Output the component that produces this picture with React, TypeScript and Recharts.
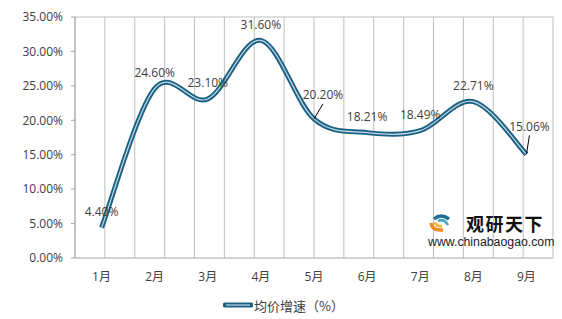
import React from "react";
import { LineChart, Line, XAxis, YAxis, CartesianGrid, ReferenceLine, Legend } from "recharts";

const months = ["1月", "2月", "3月", "4月", "5月", "6月", "7月", "8月", "9月"];
const growth = [4.4, 24.6, 23.1, 31.6, 20.2, 18.21, 18.49, 22.71, 15.06];
const yTicks = [0, 5, 10, 15, 20, 25, 30, 35];
const gridTicks = [0, 0.5, 1, 1.5, 2, 2.5, 3, 3.5, 4, 4.5, 5, 5.5, 6, 6.5, 7, 7.5, 8, 8.5, 9];
const seriesName = "均价增速（%）";

const data = months.map((m, i) => ({ month: m, value: growth[i] }));

const FONT = "'Open Sans', 'Noto Sans CJK SC', sans-serif";
const DARK = "#1c6184";
const LIGHT = "#c4dbe6";
const TEXT = "#404040";
const GRID = "#bfbfbf";

// Excel-like smoothing (Catmull-Rom through the points)
const excelSmooth = (context: any) => {
  let pts: number[][] = [];
  return {
    areaStart() {},
    areaEnd() {},
    lineStart() {
      pts = [];
    },
    point(x: number, y: number) {
      pts.push([x, y]);
    },
    lineEnd() {
      if (!pts.length) return;
      context.moveTo(pts[0][0], pts[0][1]);
      for (let i = 0; i < pts.length - 1; i++) {
        const p0 = pts[i - 1] || pts[i];
        const p1 = pts[i];
        const p2 = pts[i + 1];
        const p3 = pts[i + 2] || p2;
        context.bezierCurveTo(
          p1[0] + (p2[0] - p0[0]) / 6,
          p1[1] + (p2[1] - p0[1]) / 6,
          p2[0] - (p3[0] - p1[0]) / 6,
          p2[1] - (p3[1] - p1[1]) / 6,
          p2[0],
          p2[1]
        );
      }
    },
  };
};

const PointLabel = (props: any) => {
  const { x, y, index, value } = props;
  const text = `${Number(value).toFixed(2)}%`;
  if (index === 4 || index === 8) {
    const dx = index === 4 ? 9 : 3;
    const dy = index === 4 ? 24 : 28;
    return (
      <g>
        <line x1={x} y1={y} x2={x + dx} y2={y - dy + 9} stroke="#000" strokeWidth={1} />
        <text x={x + dx} y={y - dy} dy="0.35em" textAnchor="middle" fontSize={12} fill={TEXT}>
          {text}
        </text>
      </g>
    );
  }
  return (
    <text x={x} y={y - 16} dy="0.35em" textAnchor="middle" fontSize={12} fill={TEXT}>
      {text}
    </text>
  );
};

const LegendContent = () => (
  <div style={{ display: "flex", justifyContent: "center", alignItems: "center", height: 20, paddingLeft: 14 }}>
    <svg width={30} height={8} style={{ marginRight: 1 }}>
      <line x1={2} y1={4} x2={28} y2={4} stroke={DARK} strokeWidth={5} strokeLinecap="round" />
      <line x1={3} y1={4} x2={27} y2={4} stroke={LIGHT} strokeWidth={1.2} />
    </svg>
    <span style={{ fontSize: 13, color: TEXT, fontFamily: "'Noto Sans CJK SC', sans-serif" }}>{seriesName}</span>
  </div>
);

const Watermark = () => (
  <div style={{ position: "absolute", left: 428, top: 210, width: 130, height: 40, pointerEvents: "none" }}>
    <svg width={22} height={20} style={{ position: "absolute", left: 1, top: 3 }}>
      <path d="M2 10 Q3 18 14 17" stroke="#f08a1c" strokeWidth={3.5} fill="none" />
      <path d="M6 9 Q7 14 13 13" stroke="#f7b02e" strokeWidth={2.5} fill="none" />
      <path d="M5 6 Q12 0 20 6" stroke="#1d6f93" strokeWidth={3.5} fill="none" />
      <path d="M9 8 Q15 5 19 12" stroke="#3ea7c4" strokeWidth={2.5} fill="none" />
    </svg>
    <div
      style={{
        position: "absolute",
        left: 38,
        top: 3,
        fontFamily: "'Noto Sans CJK SC', sans-serif",
        fontWeight: 700,
        fontSize: 18,
        letterSpacing: 1.5,
        color: "#111",
        lineHeight: "20px",
      }}
    >
      观研天下
    </div>
    <div
      style={{
        position: "absolute",
        left: 0,
        top: 25,
        fontFamily: "'Liberation Sans', Arial, sans-serif",
        fontSize: 12.3,
        color: "#222",
        lineHeight: "14px",
      }}
    >
      www.chinabaogao.com
    </div>
  </div>
);

export default function App() {
  return (
    <div style={{ position: "absolute", left: 0, top: 0, width: 562, height: 319, background: "#fff", fontFamily: FONT }}>
      <LineChart width={562} height={319} data={data} margin={{ top: 17, right: 9, left: 0, bottom: 4 }}>
        <XAxis xAxisId="grid" type="number" domain={[0, 9]} ticks={gridTicks} hide />
        <CartesianGrid xAxisId="grid" vertical horizontal={false} stroke={GRID} />
        <XAxis
          dataKey="month"
          scale="band"
          height={37}
          tickLine={false}
          tickMargin={8}
          axisLine={{ stroke: "#a6a6a6" }}
          tick={{ fill: TEXT, fontSize: 12 }}
          interval={0}
        />
        <YAxis
          width={75}
          domain={[0, 35]}
          ticks={yTicks}
          tickFormatter={(v: number) => `${v.toFixed(2)}%`}
          tickSize={4}
          tickMargin={8}
          axisLine={{ stroke: "#a6a6a6" }}
          tickLine={{ stroke: "#a6a6a6" }}
          tick={{ fill: TEXT, fontSize: 12 }}
        />
        <ReferenceLine y={35} stroke={GRID} />
        <Legend verticalAlign="bottom" height={20} content={<LegendContent />} />
        <Line
          dataKey="value"
          name={seriesName}
          type={excelSmooth as any}
          stroke={DARK}
          strokeWidth={5}
          dot={false}
          activeDot={false}
          isAnimationActive={false}
          legendType="none"
        />
        <Line
          dataKey="value"
          type={excelSmooth as any}
          stroke={LIGHT}
          strokeWidth={1.2}
          dot={false}
          activeDot={false}
          isAnimationActive={false}
          label={<PointLabel />}
          legendType="none"
        />
      </LineChart>
      <Watermark />
    </div>
  );
}
